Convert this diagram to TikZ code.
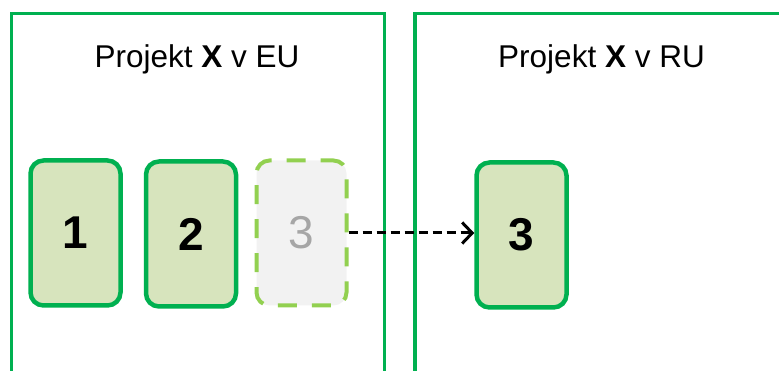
\documentclass[tikz,border=0pt]{standalone}
\usepackage{fontspec}
\setmainfont{Liberation Sans}
\usetikzlibrary{arrows.meta}
\definecolor{frame}{HTML}{00B050}
\definecolor{cardfill}{HTML}{D7E4BD}
\definecolor{ghostline}{HTML}{92D050}
\definecolor{ghostfill}{HTML}{F2F2F2}
\definecolor{ghosttext}{HTML}{A6A6A6}
\tikzset{
  region/.style={draw=frame, line width=3.5pt, minimum width=373pt, minimum height=400pt, inner sep=0pt},
  heading/.style={font=\fontsize{31.5}{38}\selectfont, inner sep=0pt},
  card/.style={draw=frame, fill=cardfill, line width=4.5pt, rounded corners=13pt,
    minimum width=90pt, minimum height=145pt, inner sep=0pt,
    font=\fontsize{46}{50}\selectfont\bfseries},
  ghostcard/.style={draw=ghostline, fill=ghostfill, line width=4pt, rounded corners=13pt,
    dash pattern=on 19pt off 15pt, dash phase=6pt,
    minimum width=90pt, minimum height=145pt, inner sep=0pt,
    font=\fontsize{46}{50}\selectfont, text=ghosttext},
  moveto/.style={line width=3pt, dash pattern=on 9pt off 5pt,
    -{Straight Barb[length=10pt,width=21pt,line width=3pt]}}
}
\begin{document}
\begin{tikzpicture}[x=1pt,y=-1pt]
  \useasboundingbox (0,0) rectangle (779,371);
  \clip (0,0) rectangle (779,371);
  % two regions, open towards the bottom
  \node[region] (eu) at (198,213.5) {};
  \node[region] (ru) at (601.5,213.5) {};
  \node[heading] (eutitle) at (197,59) {Projekt \textbf{X} v EU};
  \node[heading] (rutitle) at (601.5,59) {Projekt \textbf{X} v RU};
  % parts of the project
  \node[card] (p1) at (75.5,233) {1};
  \node[card] (p2) at (191,234) {2};
  \node[ghostcard] (p3old) at (301.5,233) {3};
  \node[card] (p3) at (521.5,235) {3};
  % part 3 moves across
  \draw[moveto] (p3old.east) -- (p3.west |- p3old.east);
\end{tikzpicture}
\end{document}
